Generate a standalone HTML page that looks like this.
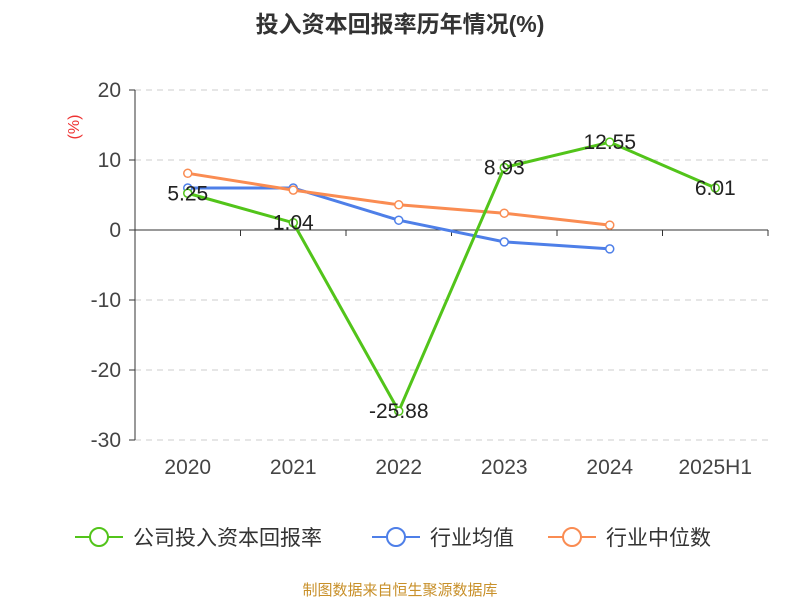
<!DOCTYPE html>
<html><head><meta charset="utf-8"><style>
body{margin:0;background:#fff;}
svg text{font-family:"Liberation Sans","Noto Sans CJK SC",sans-serif;}
</style></head><body>
<svg width="800" height="600" xmlns="http://www.w3.org/2000/svg">
<text x="400" y="32" text-anchor="middle" font-size="23" font-weight="bold" fill="#333">投入资本回报率历年情况(%)</text>
<text x="79" y="127" font-size="16" fill="#e33" transform="rotate(-90 79 127)" text-anchor="middle">(%)</text>
<g id="grid"></g><g id="axes"></g><g id="series"></g>
<g id="legend">
<g><line x1="75" y1="537" x2="123" y2="537" stroke="#52c41a" stroke-width="2"/><circle cx="99" cy="537" r="9" fill="#fff" stroke="#52c41a" stroke-width="2"/><text x="133" y="545" font-size="21" fill="#333">公司投入资本回报率</text></g>
<g><line x1="372" y1="537" x2="420" y2="537" stroke="#4e7fe8" stroke-width="2"/><circle cx="396" cy="537" r="9" fill="#fff" stroke="#4e7fe8" stroke-width="2"/><text x="430" y="545" font-size="21" fill="#333">行业均值</text></g>
<g><line x1="548" y1="537" x2="596" y2="537" stroke="#fa8c52" stroke-width="2"/><circle cx="572" cy="537" r="9" fill="#fff" stroke="#fa8c52" stroke-width="2"/><text x="606" y="545" font-size="21" fill="#333">行业中位数</text></g>
</g>
<text x="400" y="595" text-anchor="middle" font-size="15" fill="#c8902a">制图数据来自恒生聚源数据库</text>
</svg>
<script>
const categories=["2020","2021","2022","2023","2024","2025H1"];
const companyValues=[5.25,1.04,-25.88,8.93,12.55,6.01];
const avgValues=[6.0,6.0,1.4,-1.7,-2.7];
const medianValues=[8.1,5.7,3.6,2.4,0.7];
const yTicks=[20,10,0,-10,-20,-30];
const NS="http://www.w3.org/2000/svg";
const x0=135,x1=768,yTop=90,yBot=440,vMax=20,vMin=-30;
const band=(x1-x0)/categories.length;
function xs(i){return x0+band*(i+0.5);}
function ys(v){return yTop+(vMax-v)/(vMax-vMin)*(yBot-yTop);}
function mk(tag,attrs,parent){const e=document.createElementNS(NS,tag);for(const k in attrs)e.setAttribute(k,attrs[k]);parent.appendChild(e);return e;}
const grid=document.getElementById('grid'),axes=document.getElementById('axes'),series=document.getElementById('series');
yTicks.forEach(t=>{
 const y=ys(t);
 if(t!==0){const l=mk('line',{x1:x0,x2:x1,y1:y,y2:y,stroke:'#ccc','stroke-dasharray':'6,5'},grid);
 
 }
 mk('line',{x1:x0-6,x2:x0,y1:y,y2:y,stroke:'#333'},axes);
 const tx=mk('text',{x:x0-14,y:y+7,'text-anchor':'end','font-size':21,fill:'#444'},axes);tx.textContent=t;
 
 
});
const ya=mk('line',{x1:x0,x2:x0,y1:yTop,y2:yBot,stroke:'#333'},axes);


const xa=mk('line',{x1:x0,x2:x1,y1:ys(0),y2:ys(0),stroke:'#333'},axes);


for(let i=0;i<=categories.length;i++){mk('line',{x1:x0+band*i,x2:x0+band*i,y1:ys(0),y2:ys(0)+6,stroke:'#333'},axes);}
categories.forEach((c,i)=>{const t=mk('text',{x:xs(i),y:474,'text-anchor':'middle','font-size':21,fill:'#444'},axes);t.textContent=c;
 
 });
function drawLine(vals,color,name,labels){
 const g=mk('g',{},series);
 
 
 mk('polyline',{points:vals.map((v,i)=>xs(i)+','+ys(v)).join(' '),fill:'none',stroke:color,'stroke-width':3},g);
 vals.forEach((v,i)=>{const c=mk('circle',{cx:xs(i),cy:ys(v),r:4,fill:'#fff',stroke:color,'stroke-width':1.5},g);
  
  
  if(labels){const t=mk('text',{x:xs(i),y:ys(v)+7,'text-anchor':'middle','font-size':21,fill:'#222'},g);t.textContent=v.toFixed(2);
   
   }
 });
}
drawLine(avgValues,'#4e7fe8','industry-avg-line',false);
drawLine(medianValues,'#fa8c52','industry-median-line',false);
drawLine(companyValues,'#52c41a','company-roic-line',true);
</script>
</body></html>
